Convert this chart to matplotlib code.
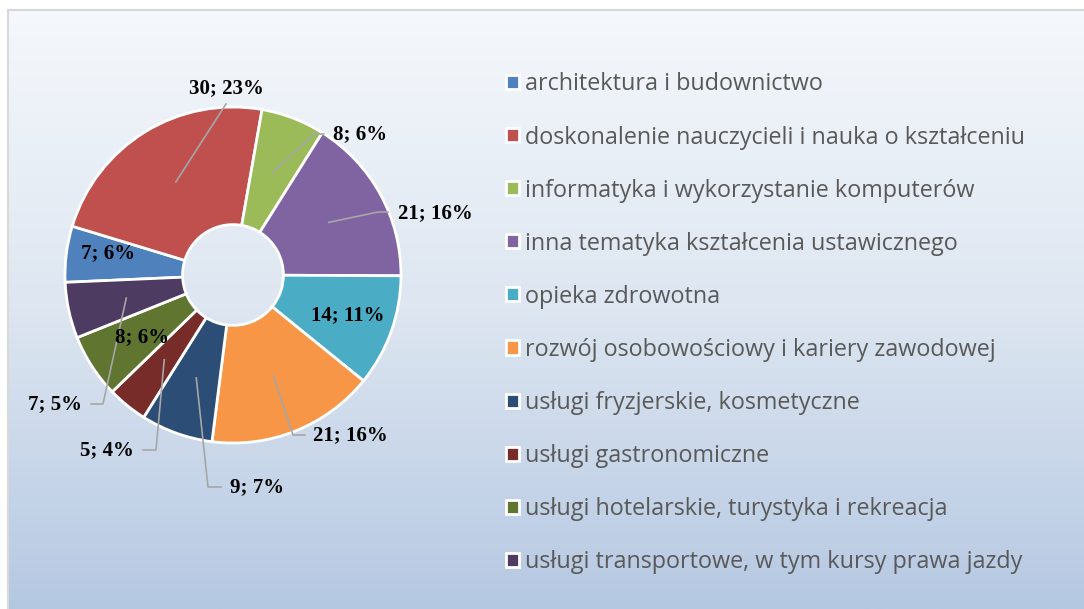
import numpy as np
import matplotlib
matplotlib.use("Agg")
import matplotlib.pyplot as plt
from matplotlib.patches import Rectangle
from matplotlib.colors import LinearSegmentedColormap

# ---- data ----
categories = [
    "architektura i budownictwo",
    "doskonalenie nauczycieli i nauka o kształceniu",
    "informatyka i wykorzystanie komputerów",
    "inna tematyka kształcenia ustawicznego",
    "opieka zdrowotna",
    "rozwój osobowościowy i kariery zawodowej",
    "usługi fryzjerskie, kosmetyczne",
    "usługi gastronomiczne",
    "usługi hotelarskie, turystyka i rekreacja",
    "usługi transportowe, w tym kursy prawa jazdy",
]
values = [7, 30, 8, 21, 14, 21, 9, 5, 8, 7]
percents = [6, 23, 6, 16, 11, 16, 7, 4, 6, 5]   # as printed on the chart
colors = ["#4F81BD", "#C0504D", "#9BBB59", "#8064A2", "#4BACC6",
          "#F79646", "#2C4D75", "#772C2A", "#5F7530", "#4D3B62"]

W, H = 1084, 609
fig = plt.figure(figsize=(W / 100, H / 100), dpi=100)
fig.patch.set_facecolor("white")

def P(x, y):
    return x, H - y

# background gradient
bg = fig.add_axes([0, 0, 1, 1])
bg.set_xlim(0, W)
bg.set_ylim(0, H)
bg.axis("off")
cmap = LinearSegmentedColormap.from_list("g", ["#f5f8fc", "#dde6f1", "#b5c8e2"])
grad = np.linspace(0, 1, 256).reshape(-1, 1)
bg.imshow(grad, cmap=cmap, aspect="auto", extent=[8, W, 0, H - 10], origin="upper", zorder=0)
bg.plot([8, 8], [0, H - 10], color="#d9d9d9", lw=1.5, zorder=1)
bg.plot([8, W], [H - 10, H - 10], color="#d9d9d9", lw=1.5, zorder=1)

ax = fig.add_axes([0, 0, 1, 1])
ax.patch.set_alpha(0)
cx, cy = P(233, 275)
R = 168
wedges, _ = ax.pie(values, colors=colors, startangle=182.5, counterclock=False,
                   center=(cx, cy), radius=R,
                   wedgeprops=dict(width=R * 0.70, edgecolor="white", linewidth=2.0))
ax.set_xlim(0, W)
ax.set_ylim(0, H)
ax.set_aspect("auto")
ax.axis("off")

# label layout: (text x, text y, ha, elbow, end)  in pixel coordinates (y down)
layout = [
    (108, 253, "center", None, None),
    (226, 88, "center", None, (226, 104)),
    (333, 134, "left", (314, 134), (324, 134)),
    (398, 213, "left", (378, 212), (388, 212)),
    (348, 315, "center", None, None),
    (313, 435, "left", (293, 435), (305, 435)),
    (230, 487, "left", (208, 487), (221, 487)),
    (134, 450, "right", (156, 450), (143, 450)),
    (142, 337, "center", None, None),
    (82, 404, "right", (103, 404), (91, 404)),
]
font_lbl = dict(family="Liberation Serif", weight="bold", size=15, color="black")
for w, v, p, (tx, ty, ha, elbow, end) in zip(wedges, values, percents, layout):
    mid = np.deg2rad((w.theta1 + w.theta2) / 2)
    rm = R * 0.65
    sx, sy = cx + rm * np.cos(mid), cy + rm * np.sin(mid)
    if end is not None:
        pts = [(sx, sy)]
        if elbow is not None:
            pts.append(P(*elbow))
        pts.append(P(*end))
        xs, ys = zip(*pts)
        ax.plot(xs, ys, color="#a6a6a6", lw=1.2, zorder=5)
    ax.text(*P(tx, ty), f"{v}; {p}%", ha=ha, va="center", zorder=6, **font_lbl)

# legend
handles = [Rectangle((0, 0), 1, 1, facecolor=c, edgecolor="white", linewidth=2.0) for c in colors]
leg = fig.legend(handles, categories, loc="upper left",
                 bbox_to_anchor=(506 / W, 1 - 72.5 / H), frameon=False,
                 prop=dict(family="Open Sans", size=16.8),
                 handlelength=0.55, handleheight=0.55, handletextpad=0.28,
                 labelspacing=1.245, borderpad=0, borderaxespad=0)
for t in leg.get_texts():
    t.set_color("#595959")

fig.savefig("out.png", dpi=100)
